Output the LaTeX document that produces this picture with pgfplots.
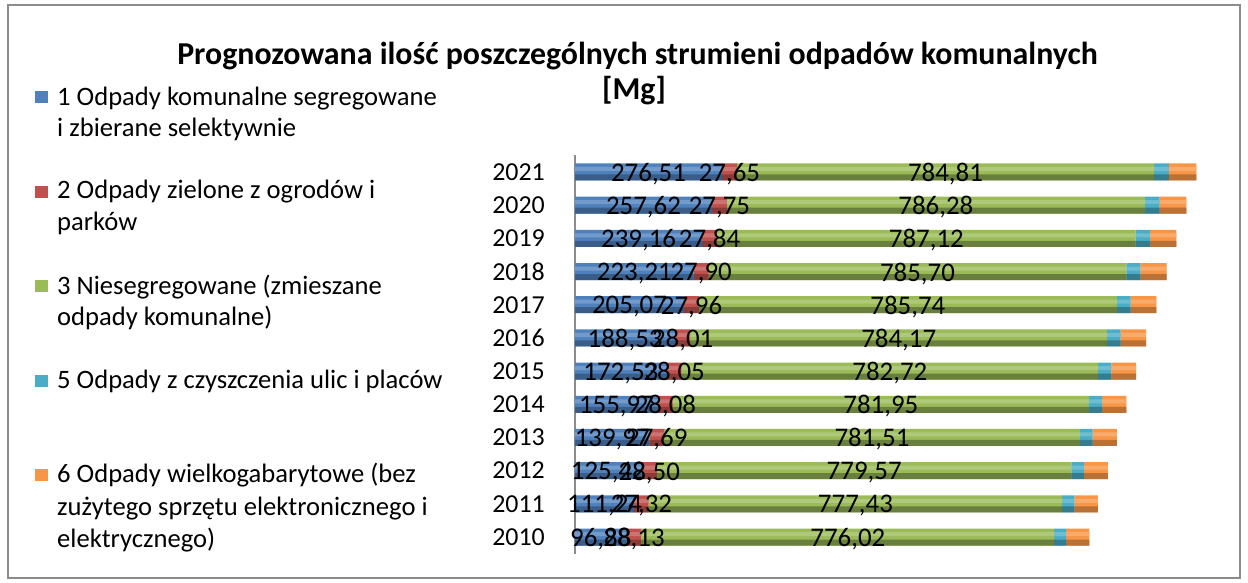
\documentclass[border=0pt]{standalone}
\usepackage{pgfplots}
\pgfplotsset{compat=1.18}
\usepackage{pgfplotstable}
\usepackage{fontspec}
\setmainfont{Carlito}

\definecolor{cBlue}{HTML}{4F81BD}
\definecolor{cRed}{HTML}{C0504D}
\definecolor{cGreen}{HTML}{9BBB59}
\definecolor{cTeal}{HTML}{4BACC6}
\definecolor{cOrange}{HTML}{F79646}
\definecolor{frameGray}{HTML}{8C8C8C}

\pgfplotstableread{
year v
2010 96.88
2011 111.24
2012 125.42
2013 139.97
2014 155.97
2015 172.53
2016 188.53
2017 205.07
2018 223.21
2019 239.16
2020 257.62
2021 276.51
}\sOne
\pgfplotstableread{
year v
2010 28.13
2011 27.32
2012 28.50
2013 27.69
2014 28.08
2015 28.05
2016 28.01
2017 27.96
2018 27.90
2019 27.84
2020 27.75
2021 27.65
}\sTwo
\pgfplotstableread{
year v
2010 776.02
2011 777.43
2012 779.57
2013 781.51
2014 781.95
2015 782.72
2016 784.17
2017 785.74
2018 785.70
2019 787.12
2020 786.28
2021 784.81
}\sThree
\pgfplotstableread{
year v
2010 22.6
2011 23.1
2012 23.5
2013 24.0
2014 24.5
2015 25.0
2016 25.4
2017 25.9
2018 26.4
2019 26.9
2020 27.4
2021 27.9
}\sFive
\pgfplotstableread{
year v
2010 43.4
2011 44.1
2012 44.8
2013 45.5
2014 46.2
2015 46.9
2016 47.6
2017 48.4
2018 49.1
2019 49.9
2020 50.7
2021 51.5
}\sSix

\pgfplotsset{
  common/.style={
    at={(575bp,29.4bp)}, anchor=south west,
    width=660bp, height=398.2bp, scale only axis,
    xbar stacked,
    xmin=0, xmax=1241, ymin=2009.5, ymax=2021.5,
    clip=false,
  },
  overlay/.style={common, axis x line=none, axis y line=none, ytick=\empty},
}

\begin{document}
\begin{tikzpicture}
\path[use as bounding box] (0,0) rectangle (1248bp,583bp);
\draw[frameGray, line width=2bp] (8bp,5bp) rectangle (1240bp,578bp);

% title
\node[anchor=base, font=\bfseries\fontsize{32}{32}\selectfont, inner sep=0pt] at (637.5bp,518bp)
  {Prognozowana ilość poszczególnych strumieni odpadów komunalnych};
\node[anchor=base, font=\bfseries\fontsize{32}{32}\selectfont, inner sep=0pt] at (634bp,483bp) {[Mg]};

% legend
\begin{scope}[every node/.style={anchor=base west, inner sep=0pt, font=\fontsize{26.7}{26.7}\selectfont}]
\fill[cBlue]   (35bp,480bp) rectangle (48bp,492bp);
\node at (57bp,477bp) {1 Odpady komunalne segregowane};
\node at (57bp,446bp) {i zbierane selektywnie};
\fill[cRed]    (35bp,385bp) rectangle (48bp,397bp);
\node at (57bp,384bp) {2 Odpady zielone z ogrodów i};
\node at (57bp,352bp) {parków};
\fill[cGreen]  (35bp,291bp) rectangle (48bp,303bp);
\node at (57bp,288bp) {3 Niesegregowane (zmieszane};
\node at (57bp,257bp) {odpady komunalne)};
\fill[cTeal]   (35bp,196bp) rectangle (48bp,208bp);
\node at (57bp,194bp) {5 Odpady z czyszczenia ulic i placów};
\fill[cOrange] (35bp,102bp) rectangle (48bp,114bp);
\node at (57bp,100bp) {6 Odpady wielkogabarytowe (bez};
\node at (57bp,67bp) {zużytego sprzętu elektronicznego i};
\node at (57bp,36bp) {elektrycznego)};
\end{scope}

% main bars with wall and year labels
\begin{axis}[common,
  bar width=17bp,
  axis x line=none,
  axis y line*=left,
  y axis line style={frameGray, line width=2.5bp, -},
  ytick={2010,...,2021},
  yticklabels={2010,2011,2012,2013,2014,2015,2016,2017,2018,2019,2020,2021},
  ytick style={draw=none},
  yticklabel style={anchor=east, inner sep=0pt, xshift=-30bp, font=\fontsize{26}{26}\selectfont},
]
\addplot[fill=cBlue, draw=none] table[x=v, y=year] {\sOne};
\addplot[fill=cRed, draw=none] table[x=v, y=year] {\sTwo};
\addplot[fill=cGreen, draw=none] table[x=v, y=year] {\sThree};
\addplot[fill=cTeal, draw=none] table[x=v, y=year] {\sFive};
\addplot[fill=cOrange, draw=none] table[x=v, y=year] {\sSix};
\end{axis}

% darker lower band (cylinder shading)
\begin{axis}[overlay, bar width=6bp, bar shift=-5.5bp]
\addplot[fill=cBlue!72!black, draw=none] table[x=v, y=year] {\sOne};
\addplot[fill=cRed!72!black, draw=none] table[x=v, y=year] {\sTwo};
\addplot[fill=cGreen!68!black, draw=none] table[x=v, y=year] {\sThree};
\addplot[fill=cTeal!72!black, draw=none] table[x=v, y=year] {\sFive};
\addplot[fill=cOrange!75!black, draw=none] table[x=v, y=year] {\sSix};
\end{axis}

% lighter upper band
\begin{axis}[overlay, bar width=4bp, bar shift=3bp]
\addplot[fill=cBlue!80!white, draw=none] table[x=v, y=year] {\sOne};
\addplot[fill=cRed!80!white, draw=none] table[x=v, y=year] {\sTwo};
\addplot[fill=cGreen!80!white, draw=none] table[x=v, y=year] {\sThree};
\addplot[fill=cTeal!80!white, draw=none] table[x=v, y=year] {\sFive};
\addplot[fill=cOrange!80!white, draw=none] table[x=v, y=year] {\sSix};
\end{axis}

% value labels (invisible stacked bars carrying the labels)
\begin{axis}[overlay, bar width=17bp,
  /pgf/number format/fixed,
  /pgf/number format/fixed zerofill,
  /pgf/number format/precision=2,
  /pgf/number format/use comma,
  /pgf/number format/1000 sep={},
  /pgf/number format/assume math mode=true,
  point meta=\thisrow{v},
  every node near coord/.append style={anchor=center, inner sep=0pt, text=black,
      font=\fontsize{27}{27}\selectfont, yshift=-2bp},
]
\addplot[draw=none, fill=none, nodes near coords] table[x=v, y=year] {\sOne};
\addplot[draw=none, fill=none, nodes near coords] table[x=v, y=year] {\sTwo};
\addplot[draw=none, fill=none, nodes near coords] table[x=v, y=year] {\sThree};
\end{axis}
\end{tikzpicture}
\end{document}
